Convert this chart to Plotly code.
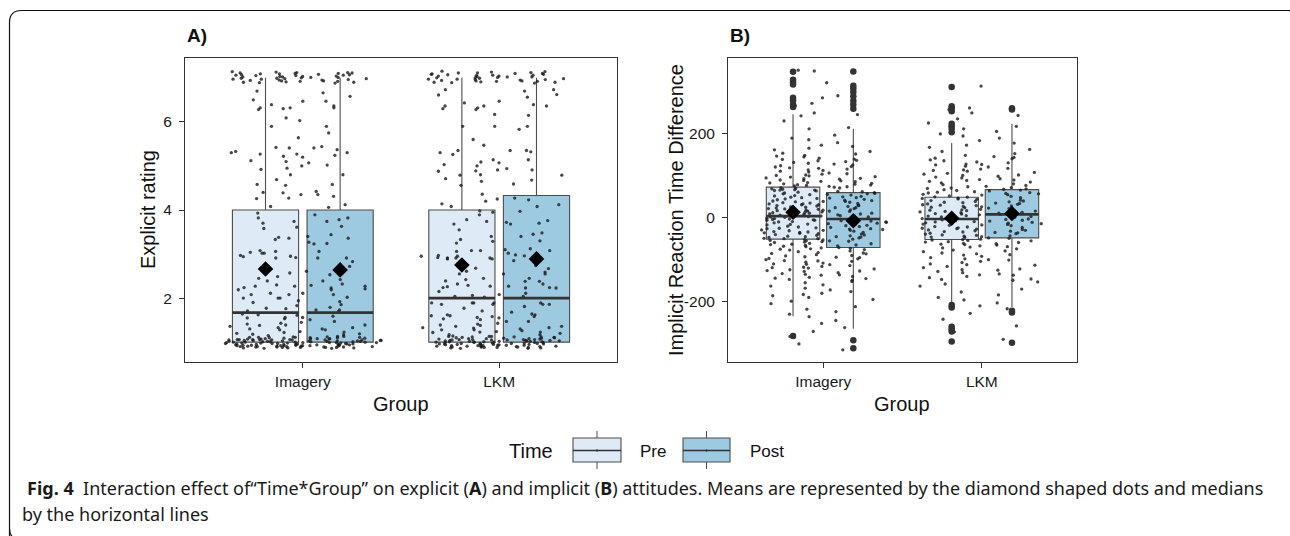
import plotly.graph_objects as go

W, H = 1290, 536

# ---------------- data ----------------
groups = ["Imagery", "LKM"]
times = ["Pre", "Post"]
time_colors = ["#deebf7", "#9ecae1"]

# Panel A (Explicit rating) box statistics, per group [Imagery, LKM]
A_pre_q1 = [1.0, 1.0]
A_pre_median = [1.67, 2.0]
A_pre_q3 = [4.0, 4.0]
A_pre_lower = [1.0, 1.0]
A_pre_upper = [7.0, 7.0]
A_pre_mean = [2.66, 2.75]
A_post_q1 = [1.0, 1.0]
A_post_median = [1.67, 2.0]
A_post_q3 = [4.0, 4.33]
A_post_lower = [1.0, 1.0]
A_post_upper = [7.0, 7.0]
A_post_mean = [2.64, 2.89]

# Panel B (Implicit reaction time difference) box statistics
B_pre_q1 = [-51, -52]
B_pre_median = [4, -3]
B_pre_q3 = [73, 49]
B_pre_lower = [-235, -204]
B_pre_upper = [247, 178]
B_pre_mean = [13, -1]
B_post_q1 = [-71, -48]
B_post_median = [-3, 8]
B_post_q3 = [60, 67]
B_post_lower = [-265, -213]
B_post_upper = [212, 224]
B_post_mean = [-7, 10]

# Panel B box outliers
B_pre_out_imagery = [348, 329, 323, 318, 286, 280, 270, 264, -282]
B_post_out_imagery = [349, 315, 308, 300, 290, 279, 270, 260, -292, -311]
B_pre_out_lkm = [312, 266, 261, 254, 224, 218, 212, 204, -208, -214, -260, -266, -271, -295]
B_post_out_lkm = [261, 258, -222, -226, -298]

# Jittered raw observations (Pre and Post pooled per group, as drawn)
A_imagery_pts = [
    7.12, 7.09, 7.05, 7.01, 6.97, 6.93, 6.90, 7.11, 7.07, 7.03, 6.99, 6.95, 6.91, 6.88, 7.13,
    7.10, 7.06, 7.02, 6.98, 6.94, 6.89, 7.12, 7.08, 7.04, 7.00, 6.96, 6.92, 7.14, 7.10, 7.05,
    7.01, 6.97, 6.93, 6.90, 7.09, 7.06, 7.03, 6.99, 6.95, 7.11, 7.07, 7.02, 6.98, 6.92,
    6.70, 6.58, 6.47, 6.32, 6.32, 6.50, 6.66, 6.47, 6.39, 6.32, 6.36, 6.28, 6.30, 6.09, 6.03,
    5.90, 5.90, 5.75, 5.64, 5.42, 5.44, 5.30, 5.30, 5.27, 5.41, 5.33, 5.37, 5.41, 5.20, 5.27,
    5.22, 5.24, 5.10, 5.12, 5.07, 5.00, 5.02, 4.95, 4.92, 4.80, 4.80, 4.69, 4.58, 4.58, 4.56,
    4.42, 4.40, 4.39, 4.35, 4.35, 4.31, 4.27, 4.26, 4.12, 4.08, 4.06,
    3.93, 3.89, 3.82, 3.82, 3.74, 3.70, 3.78, 3.74, 3.63, 3.61, 3.58, 3.44, 3.36, 3.36, 3.33,
    3.40, 3.38, 3.27, 3.23, 3.24, 3.08, 3.04, 3.06, 3.02, 3.02, 3.06, 2.97, 2.91, 2.91, 2.94,
    2.95, 2.92, 2.91, 2.83, 2.72, 2.72, 2.72, 2.68, 2.61, 2.57, 2.53, 2.49, 2.42, 2.39, 2.45,
    2.39, 2.32, 2.30, 2.29, 2.27, 2.27, 2.27, 2.24, 2.23, 2.21, 2.19, 2.19, 2.11, 2.08, 2.08,
    2.11, 2.08, 2.02, 2.00, 2.00, 2.00, 1.94, 1.92, 1.90, 1.85, 1.83, 1.79, 1.77, 1.76, 1.73,
    1.73, 1.71, 1.70, 1.64, 1.62, 1.61, 1.59, 1.56, 1.56, 1.55, 1.53, 1.51, 1.47, 1.45, 1.43,
    1.41, 1.39, 1.39, 1.38, 1.36, 1.33, 1.33, 1.30, 1.30, 1.28, 1.28, 1.24, 1.23, 1.22, 1.20,
    1.18, 1.19, 1.17, 1.15,
    0.87, 0.92, 1.05, 0.98, 1.11, 0.90, 1.02, 0.95, 1.08, 0.88, 1.13, 0.97, 1.01, 0.93, 1.06,
    0.89, 1.10, 0.99, 1.04, 0.91, 1.07, 0.94, 1.00, 1.12, 0.86, 0.96, 1.03, 1.09, 0.90, 0.98,
    1.05, 0.92, 1.01, 0.87, 1.08, 0.95, 1.11, 0.99, 1.02, 0.93, 0.89, 1.06, 0.97, 1.04, 0.91,
    1.10, 0.88, 1.00, 0.96, 1.07, 1.03, 0.94, 1.13, 0.90, 0.98, 1.05, 0.92, 1.01, 0.87, 1.09,
    0.95, 1.02, 0.99, 1.06, 0.93, 1.11, 0.89, 1.04, 0.97, 1.00, 0.91, 1.08, 0.94, 1.03, 0.88,
    1.12, 0.96, 1.05, 0.90, 0.99, 1.07, 0.92, 1.01, 0.86, 1.10, 0.95, 1.04, 0.98, 0.93, 1.06,
    1.02, 0.89, 0.97, 1.08, 0.91, 1.00, 0.94, 1.05, 0.88, 1.03, 0.96, 1.11, 0.92, 0.99, 1.06,
]

A_lkm_pts = [
    7.14, 7.11, 7.08, 7.05, 7.02, 6.99, 6.96, 6.93, 6.90, 7.13, 7.09, 7.06, 7.03, 7.00, 6.97,
    6.94, 6.91, 6.88, 7.12, 7.10, 7.07, 7.04, 7.01, 6.98, 6.95, 6.92, 6.89, 7.15, 7.11, 7.06,
    7.02, 6.97, 6.93, 6.90, 7.08, 7.04, 7.00, 6.96, 6.92, 7.10,
    6.73, 6.73, 6.70, 6.62, 6.61, 6.56, 6.47, 6.36, 6.36, 6.36, 6.39, 6.43, 6.32, 6.30, 6.28,
    6.17, 6.15, 5.90, 5.90, 5.90, 5.83, 5.60, 5.47, 5.35, 5.35, 5.35, 5.32, 5.30, 5.26, 5.14,
    5.14, 5.07, 5.03, 5.09, 5.00, 4.94, 4.89, 4.91, 4.91, 4.88, 4.80, 4.79, 4.79, 4.71, 4.68,
    4.65, 4.59, 4.56, 4.36, 4.25, 4.14, 4.08, 4.08,
    4.27, 4.23, 4.20, 4.12, 3.98, 3.97, 3.95, 3.89, 3.78, 3.74, 3.76, 3.72, 3.70, 3.68, 3.68,
    3.55, 3.48, 3.45, 3.40, 3.40, 3.33, 3.30, 3.29, 3.25, 3.12, 3.10, 3.08, 3.08, 3.06, 3.08,
    3.02, 3.00, 2.98, 2.97, 2.96, 2.95, 2.92, 2.95, 2.91, 2.91, 2.91, 2.89, 2.89, 2.85, 2.74,
    2.68, 2.67, 2.61, 2.59, 2.55, 2.55, 2.55, 2.45, 2.45, 2.42, 2.39, 2.38, 2.38, 2.32, 2.32,
    2.29, 2.27, 2.27, 2.26, 2.24, 2.23, 2.24, 2.23, 2.15, 2.11, 2.08, 2.06, 2.04, 2.04, 2.02,
    1.89, 1.89, 1.86, 1.89, 1.89, 1.86, 1.89, 1.86, 1.86, 1.81, 1.77, 1.71, 1.68, 1.64, 1.62,
    1.62, 1.60, 1.60, 1.58, 1.58, 1.56, 1.55, 1.53, 1.51, 1.47, 1.47, 1.43, 1.41, 1.39, 1.38,
    1.36, 1.36, 1.33, 1.33, 1.32, 1.30, 1.28, 1.28, 1.26, 1.24, 1.23, 1.23, 1.22, 1.20, 1.17,
    1.17, 1.14, 1.13,
    0.88, 1.03, 0.95, 1.10, 0.91, 0.99, 1.06, 0.86, 1.12, 0.97, 1.01, 0.93, 1.08, 0.89, 1.04,
    0.96, 1.13, 0.90, 1.00, 0.94, 1.07, 0.87, 1.02, 0.98, 1.11, 0.92, 1.05, 0.95, 1.09, 0.88,
    1.01, 0.97, 1.06, 0.90, 1.03, 0.93, 1.12, 0.99, 0.86, 1.04, 0.96, 1.08, 0.91, 1.00, 0.94,
    1.10, 0.89, 1.05, 0.97, 1.02, 0.92, 1.07, 0.88, 1.13, 0.95, 1.01, 0.99, 1.06, 0.90, 1.04,
    0.93, 1.09, 0.87, 1.03, 0.96, 1.11, 0.91, 1.00, 0.98, 1.05, 0.94, 1.08, 0.89, 1.02, 0.97,
    1.12, 0.92, 1.06, 0.95, 1.00,
]

B_imagery_pts = [
    352, 350, 322, 291, 286, 273, 267, 250, 246, 243, 231, 215, 212, 197, 190, 186, 179, 173,
    170, 166, 162, 158, 154, 152,
    149, 147, 145, 142, 140, 139, 137, 134, 132, 130, 128, 126, 124, 122, 121, 118, 116, 114,
    113, 111, 109, 107, 105, 104, 102, 100, 98, 97, 95, 93, 92, 90, 89, 87, 86, 84, 83, 82, 81,
    80, 136, 119, 101, 94, 88,
    79, 78, 76, 75, 73, 72, 71, 69, 68, 66, 65, 64, 62, 61, 60, 58, 57, 56, 54, 53, 52, 50, 49,
    48, 47, 45, 44, 43, 41, 40, 39, 38, 36, 35, 34, 33, 31, 30, 29, 28, 27, 25, 24, 23, 22, 21,
    19, 18, 17, 16, 15, 13, 12, 11, 10, 9, 8, 6, 5, 4, 3, 2, 1, 0, 3, 7, 11, 14, 18, 22, 26, 29,
    33, 37, 42, 46, 51, 55, 59, 63, 67, 70, 74, 77, 2, 9, 16, 24, 31, 39, 48, 57, 66, 5, 20,
    -1, -2, -4, -5, -6, -8, -9, -10, -12, -13, -15, -16, -17, -19, -20, -22, -23, -25, -26, -27,
    -29, -30, -32, -33, -35, -36, -38, -39, -41, -42, -44, -45, -47, -48, -50, -51, -53, -54,
    -56, -57, -59, -61, -62, -64, -66, -67, -69, -71, -73, -75, -77, -79, -3, -7, -11, -14, -18,
    -21, -24, -28, -31, -34, -37, -40, -43, -46, -49, -52, -55, -58, -63, -68, -72, -76, -6,
    -15, -26, -35, -45, -55, -65, -74, -10, -30, -50,
    -81, -83, -84, -86, -88, -90, -91, -93, -95, -97, -98, -100, -102, -104, -106, -108, -110,
    -112, -114, -116, -118, -120, -122, -124, -126, -128, -131, -133, -135, -137, -140, -142,
    -145, -147, -149, -85, -94, -103, -111, -119, -127, -136, -144,
    -152, -155, -160, -163, -168, -172, -176, -180, -183, -186, -190, -195, -199, -205, -212,
    -218, -224, -230, -236, -245, -252, -262, -271, -283, -292, -301, -315,
]

B_lkm_pts = [
    314, 262, 258, 250, 244, 236, 226, 218, 212, 206, 200, 195, 190, 184, 178, 173, 168, 163,
    158, 153,
    149, 146, 144, 141, 138, 136, 133, 131, 128, 126, 123, 121, 118, 116, 113, 111, 108, 106,
    104, 101, 99, 97, 95, 93, 91, 89, 87, 85, 83, 81, 142, 127, 114, 102, 90,
    79, 77, 75, 74, 72, 70, 69, 67, 65, 64, 62, 60, 59, 57, 55, 54, 52, 50, 49, 47, 46, 44, 42,
    41, 39, 38, 36, 34, 33, 31, 30, 28, 26, 25, 23, 22, 20, 18, 17, 15, 14, 12, 10, 9, 7, 6, 4,
    2, 1, 3, 8, 13, 19, 24, 29, 35, 40, 45, 51, 56, 61, 66, 71, 5, 16, 27, 37, 48, 58, 68, 11, 32,
    -1, -3, -4, -6, -8, -9, -11, -13, -14, -16, -18, -19, -21, -23, -24, -26, -28, -29, -31, -33,
    -34, -36, -38, -39, -41, -43, -44, -46, -48, -49, -51, -53, -55, -57, -59, -61, -63, -65,
    -67, -69, -72, -74, -77, -79, -2, -7, -12, -17, -22, -27, -32, -37, -42, -47, -52, -58, -64,
    -70, -5, -15, -25, -35, -45, -54, -62, -10, -30,
    -81, -84, -86, -89, -92, -95, -98, -101, -104, -107, -110, -113, -116, -119, -122, -125,
    -128, -131, -134, -137, -140, -143, -146, -149, -88, -100, -112, -124, -136, -147,
    -153, -158, -163, -170, -177, -184, -190, -196, -203, -210, -217, -228, -242, -258, -272, -290,
]

# density bands used only to keep the library's jitter spread even across value ranges
A_band_breaks = [1.16, 4.05, 6.86]
B_band_breaks = [-150, -80, 0, 80, 150]

# ---------------- layout helpers ----------------
def px(x):
    return x / W

def py(y):
    return 1 - y / H

FONT = "Liberation Sans, Arial, Helvetica, sans-serif"
CAP_FONT = "Noto Sans, Open Sans, sans-serif"
BOX_LINE = "#4d4d4d"
DODGE = 0.19
BOX_W = 0.337
JIT_W = 0.8

fig = go.Figure()

panels = [
    dict(xa="x", ya="y", breaks=A_band_breaks,
         pre=(A_pre_q1, A_pre_median, A_pre_q3, A_pre_lower, A_pre_upper, A_pre_mean),
         post=(A_post_q1, A_post_median, A_post_q3, A_post_lower, A_post_upper, A_post_mean),
         pts=[A_imagery_pts, A_lkm_pts], outs=None),
    dict(xa="x2", ya="y2", breaks=B_band_breaks,
         pre=(B_pre_q1, B_pre_median, B_pre_q3, B_pre_lower, B_pre_upper, B_pre_mean),
         post=(B_post_q1, B_post_median, B_post_q3, B_post_lower, B_post_upper, B_post_mean),
         pts=[B_imagery_pts, B_lkm_pts],
         outs=[[B_pre_out_imagery, B_post_out_imagery], [B_pre_out_lkm, B_post_out_lkm]]),
]


def split_bands(vals, breaks):
    edges = [-float("inf")] + list(breaks) + [float("inf")]
    out = []
    for lo, hi in zip(edges[:-1], edges[1:]):
        band = [v for v in vals if lo <= v < hi]
        if band:
            out.append(band)
    return out


for p in panels:
    stats = [p["pre"], p["post"]]
    # boxes
    for gi, g in enumerate(groups):
        for ti, t in enumerate(times):
            q1, med, q3, lo, up, mn = (s[gi] for s in stats[ti])
            pos = gi + 1 + (DODGE if ti == 1 else -DODGE)
            fig.add_trace(go.Box(
                x=[pos], q1=[q1], median=[med], q3=[q3], lowerfence=[lo], upperfence=[up],
                orientation="v", width=BOX_W, fillcolor=time_colors[ti],
                line=dict(color=BOX_LINE, width=1.1), whiskerwidth=0, boxpoints=False,
                xaxis=p["xa"], yaxis=p["ya"], showlegend=False, hoverinfo="skip",
                name=f"{g} {t}"))
    # jittered points (library jitter), one invisible box trace per density band
    for gi, g in enumerate(groups):
        for band in split_bands(p["pts"][gi], p["breaks"]):
            fig.add_trace(go.Box(
                y=band, x=[gi + 1] * len(band), orientation="v", width=JIT_W,
                boxpoints="all", jitter=1, pointpos=0,
                fillcolor="rgba(0,0,0,0)", line=dict(width=0, color="rgba(0,0,0,0)"),
                whiskerwidth=0,
                marker=dict(size=3.3, color="rgba(25,25,25,0.8)"),
                xaxis=p["xa"], yaxis=p["ya"], showlegend=False, hoverinfo="skip"))
    # thick median lines, means, outliers
    for gi, g in enumerate(groups):
        for ti, t in enumerate(times):
            q1, med, q3, lo, up, mn = (s[gi] for s in stats[ti])
            pos = gi + 1 + (DODGE if ti == 1 else -DODGE)
            fig.add_trace(go.Scatter(
                x=[pos - BOX_W / 2, pos + BOX_W / 2], y=[med, med], mode="lines",
                line=dict(color="#333333", width=2.6), xaxis=p["xa"], yaxis=p["ya"],
                showlegend=False, hoverinfo="skip"))
            if p["outs"] is not None:
                o = p["outs"][gi][ti]
                fig.add_trace(go.Scatter(
                    x=[pos] * len(o), y=o, mode="markers",
                    marker=dict(size=6.5, color="#333333"), xaxis=p["xa"], yaxis=p["ya"],
                    showlegend=False, hoverinfo="skip"))
            fig.add_trace(go.Scatter(
                x=[pos], y=[mn], mode="markers",
                marker=dict(symbol="diamond", size=12, color="black"),
                xaxis=p["xa"], yaxis=p["ya"], showlegend=False, hoverinfo="skip"))

axis_common = dict(showgrid=False, zeroline=False, showline=True, mirror=True,
                   linecolor="#333333", linewidth=1, ticks="outside", ticklen=5,
                   tickwidth=1, tickcolor="#333333",
                   tickfont=dict(family=FONT, size=15.5, color="#1a1a1a"))

fig.update_layout(
    width=W, height=H, margin=dict(l=0, r=0, t=0, b=0),
    paper_bgcolor="white", plot_bgcolor="white", showlegend=False,
    xaxis=dict(domain=[px(185), px(617)], range=[0.4, 2.6], tickmode="array",
               tickvals=[1, 2], ticktext=groups, anchor="y", **axis_common),
    yaxis=dict(domain=[py(362), py(58)], range=[0.55, 7.45], tickmode="array",
               tickvals=[2, 4, 6], ticktext=["2", "4", "6"], anchor="x",
               ticklabelstandoff=4, **axis_common),
    xaxis2=dict(domain=[px(728), px(1077)], range=[0.4, 2.6], tickmode="array",
                tickvals=[1, 2], ticktext=groups, anchor="y2", **axis_common),
    yaxis2=dict(domain=[py(362), py(58)], range=[-344, 381], tickmode="array",
                tickvals=[-200, 0, 200], ticktext=["-200", "0", "200"], anchor="x2",
                ticklabelstandoff=4, **axis_common),
)

ann = []
def text(x, y, s, size, xanchor="center", yanchor="middle", angle=0, family=FONT, color="#111111"):
    ann.append(dict(x=px(x), y=py(y), xref="paper", yref="paper", text=s, showarrow=False,
                    xanchor=xanchor, yanchor=yanchor, textangle=angle,
                    font=dict(family=family, size=size, color=color)))

text(185, 35, "<b>A)</b>", 19, xanchor="left")
text(728, 35, "<b>B)</b>", 19, xanchor="left")
text(401, 404, "Group", 20)
text(902, 404, "Group", 20)
text(148, 210, "Explicit rating", 20, angle=-90)
text(676, 210, "Implicit Reaction Time Difference", 20, angle=-90)

# legend (Time)
text(531, 451, "Time", 20)
text(638, 451, "Pre", 17, xanchor="left")
text(748, 451, "Post", 17, xanchor="left")

# caption
text(25, 488, "<b>Fig. 4</b>  Interaction effect of\u201cTime*Group\u201d on explicit (<b>A</b>) and implicit (<b>B</b>) "
     "attitudes. Means are represented by the diamond shaped dots and medians",
     18, xanchor="left", family=CAP_FONT, color="#1a1a1a")
text(20, 514, "by the horizontal lines", 18, xanchor="left", family=CAP_FONT, color="#1a1a1a")

shapes = []
# legend keys
for (x0, x1), col in zip([(573, 621), (683, 730)], time_colors):
    xc = (x0 + x1) / 2
    shapes.append(dict(type="line", xref="paper", yref="paper", x0=px(xc), x1=px(xc),
                       y0=py(431), y1=py(438), line=dict(color=BOX_LINE, width=1)))
    shapes.append(dict(type="line", xref="paper", yref="paper", x0=px(xc), x1=px(xc),
                       y0=py(462), y1=py(469), line=dict(color=BOX_LINE, width=1)))
    shapes.append(dict(type="rect", xref="paper", yref="paper", x0=px(x0), x1=px(x1),
                       y0=py(462), y1=py(438), fillcolor=col, line=dict(color=BOX_LINE, width=1.1)))
    shapes.append(dict(type="line", xref="paper", yref="paper", x0=px(x0), x1=px(x1),
                       y0=py(450.5), y1=py(450.5), line=dict(color="#333333", width=1.6)))
    shapes.append(dict(type="circle", xref="paper", yref="paper", x0=px(xc - 1), x1=px(xc + 1),
                       y0=py(451.5), y1=py(449.5), fillcolor="#222", line=dict(width=0)))

# outer rounded frame
r = 12
L, T, R, B = 9.5, 10.5, 1300, 540
path = (f"M {px(L)},{py(B)} L {px(L)},{py(T + r)} Q {px(L)},{py(T)} {px(L + r)},{py(T)} "
        f"L {px(R - r)},{py(T)} Q {px(R)},{py(T)} {px(R)},{py(T + r)} L {px(R)},{py(B - r)} "
        f"Q {px(R)},{py(B)} {px(R - r)},{py(B)} L {px(L + r)},{py(B)} Q {px(L)},{py(B)} {px(L)},{py(B - r)} Z")
shapes.append(dict(type="path", xref="paper", yref="paper", path=path,
                   line=dict(color="#111111", width=1.2)))

fig.update_layout(annotations=ann, shapes=shapes)
fig.write_html("out.html", config={"displayModeBar": False},
               post_script="document.body.style.margin='0px';")
